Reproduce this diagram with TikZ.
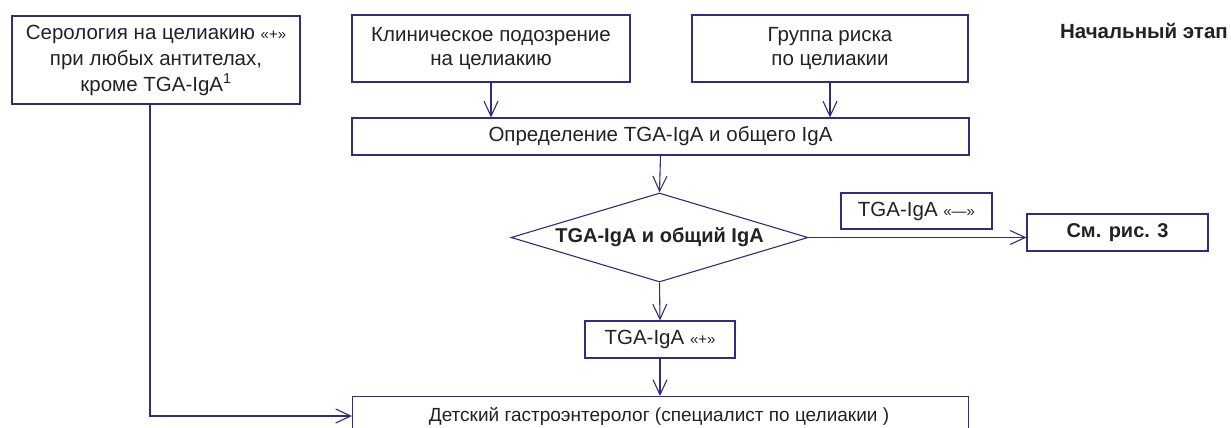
\documentclass[tikz,border=0pt]{standalone}
\usepackage{fontspec}
\setmainfont{Liberation Sans}
\usetikzlibrary{arrows.meta,shapes.geometric}
\definecolor{navy}{HTML}{2E2D80}
\definecolor{ink}{HTML}{222222}
\newcommand{\qm}[1]{{\fontsize{15}{15}\selectfont #1}}
\tikzset{
  box/.style={draw=navy, line width=1.1pt, rectangle, inner sep=2pt, align=center,
    text=ink, font=\fontsize{20.5}{26}\selectfont},
  decision/.style={draw=navy, line width=1.1pt, diamond, aspect=3.34, inner sep=0pt,
    text=ink, font=\bfseries\fontsize{20}{24}\selectfont},
  link/.style={draw=navy, line width=1.1pt, -{Straight Barb[length=15pt,width=14pt]}},
}
\begin{document}
\begin{tikzpicture}[x=1pt,y=-1pt]
\useasboundingbox (0,0) rectangle (1231,428);
\begin{scope}
\clip (0,0) rectangle (1231,428);

\node[box, minimum width=288, minimum height=88] (sero) at (156,60)
  {Серология на целиакию \qm{«+»}\\при любых антителах,\\кроме TGA-IgA\textsuperscript{1}};
\node[box, minimum width=278, minimum height=67] (clin) at (491,48.5)
  {\raisebox{-2pt}{Клиническое подозрение}\\на целиакию};
\node[box, minimum width=276, minimum height=67] (risk) at (830,48.5)
  {\raisebox{-2pt}{Группа риска}\\по целиакии};
\node[box, minimum width=617, minimum height=37] (test) at (660.5,136.5)
  {Определение TGA-IgA и общего IgA};
\node[decision, minimum width=297, minimum height=89] (dec) at (659.5,237.5)
  {TGA-IgA и общий IgA};
\node[box, minimum width=151, minimum height=36] (neg) at (916.5,211)
  {TGA-IgA \qm{«—»}};
\node[box, minimum width=181, minimum height=37, font=\bfseries\fontsize{20}{24}\selectfont] (fig) at (1117.5,232.5)
  {См. рис. 3};
\node[box, minimum width=150, minimum height=37] (pos) at (660,339.5)
  {TGA-IgA \qm{«+»}};
\node[box, minimum width=616, minimum height=44, anchor=north west] (gastro) at (352,396) {};
\node[text=ink, font=\fontsize{19}{24}\selectfont, anchor=center] (gastrotxt) at (659,416)
  {Детский гастроэнтеролог (специалист по целиакии )};
\node[text=ink, font=\bfseries\fontsize{20.5}{24}\selectfont, anchor=east, inner sep=0pt] (stage) at (1228,31)
  {Начальный этап};

\draw[link] (clin.south) -- (clin.south |- test.north);
\draw[link] (risk.south) -- (risk.south |- test.north);
\draw[link] (test.south) -- (dec.north);
\draw[link] (dec.east) -- (dec.east -| fig.west);
\draw[link] (dec.south) -- (pos.north);
\draw[link] (pos.south) -- (pos.south |- gastro.north);
\coordinate (seroout) at ([xshift=-6pt]sero.south);
\draw[link] (seroout) |- (gastro.west |- gastrotxt);
\end{scope}
\end{tikzpicture}
\end{document}
